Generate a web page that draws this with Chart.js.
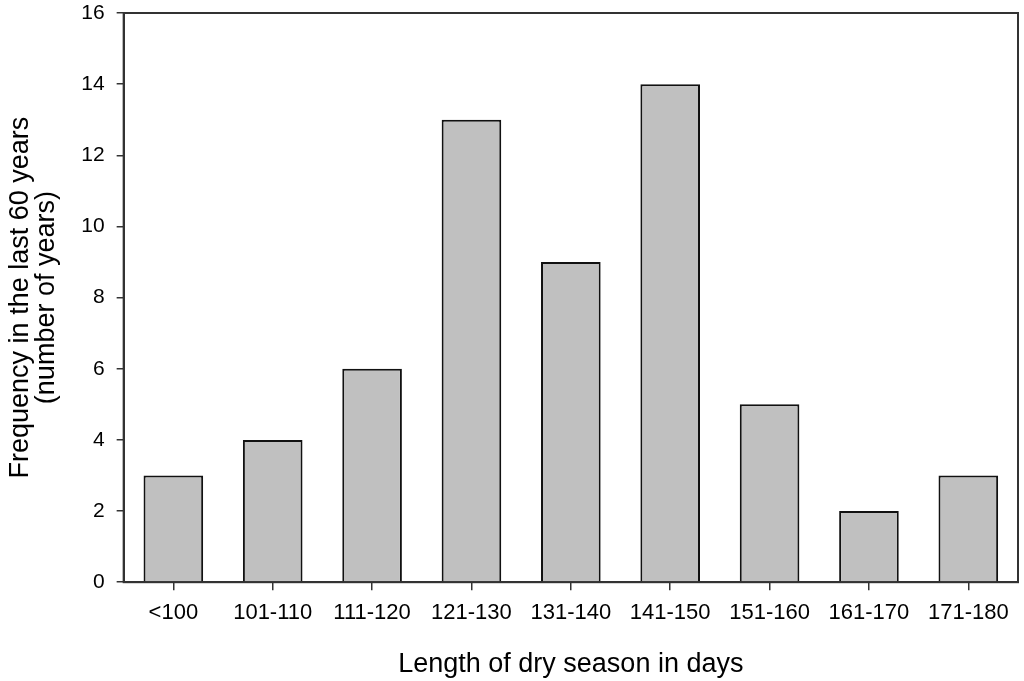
<!DOCTYPE html>
<html>
<head>
<meta charset="utf-8">
<script src="https://cdn.jsdelivr.net/npm/chart.js@4"></script>
<style>
  html, body { margin: 0; padding: 0; background: #fff; }
  #wrap { width: 1024px; height: 681px; }
</style>
</head>
<body>
<div id="wrap"><canvas id="dry-chart" width="1024" height="681"></canvas></div>
<script>
const categories = ["<100", "101-110", "111-120", "121-130", "131-140", "141-150", "151-160", "161-170", "171-180"];
const frequency = [3, 4, 6, 13, 9, 14, 5, 2, 3];
const yTicks = [0, 2, 4, 6, 8, 10, 12, 14, 16];

const axisColor = "#333333";
const font = "'Liberation Sans', Arial, sans-serif";

// box around the plot area (top and right lines)
const frame = {
  id: "frame",
  afterDraw(chart) {
    const a = chart.chartArea;
    const ctx = chart.ctx;
    ctx.save();
    ctx.strokeStyle = axisColor;
    ctx.lineWidth = 2;
    ctx.strokeRect(a.left, a.top, a.right - a.left, a.bottom - a.top);
    ctx.restore();
  },
};

let ctx = document.getElementById("dry-chart").getContext("2d");
new Chart(ctx, {
  type: "bar",
  data: {
    labels: categories,
    datasets: [
      {
        data: frequency,
        backgroundColor: "#c0c0c0",
        borderColor: "#111111",
        borderWidth: 2,
        barPercentage: 0.6,
        categoryPercentage: 1.0,
      },
    ],
  },
  options: {
    responsive: false,
    animation: false,
    layout: { padding: { left: 8, right: 6, top: 13, bottom: 0 } },
    plugins: {
      legend: { display: false },
      tooltip: { enabled: false },
    },
    scales: {
      x: {
        grid: {
          display: true,
          offset: false,
          drawOnChartArea: false,
          drawTicks: true,
          tickLength: 8,
          color: axisColor,
          lineWidth: 1.5,
        },
        border: { display: true, color: axisColor, width: 2 },
        ticks: { color: "#000", padding: 10, font: { family: font, size: 22 } },
        title: {
          display: true,
          text: "Length of dry season in days",
          color: "#000",
          padding: { top: 12, bottom: 0 },
          font: { family: font, size: 27 },
        },
      },
      y: {
        min: 0,
        max: 16,
        afterBuildTicks: (scale) => {
          scale.ticks = yTicks.map((v) => ({ value: v }));
        },
        // let the "16" label sit in the top margin instead of pushing the plot down
        afterFit: (scale) => {
          scale.paddingTop = 0;
        },
        grid: {
          display: true,
          drawOnChartArea: false,
          drawTicks: true,
          tickLength: 7,
          color: axisColor,
          lineWidth: 1.5,
        },
        border: { display: true, color: axisColor, width: 2 },
        ticks: { color: "#000", padding: 12, font: { family: font, size: 21 } },
        title: {
          display: true,
          text: ["Frequency in the last 60 years", "(number of years)"],
          color: "#000",
          padding: { top: 0, bottom: 10 },
          font: { family: font, size: 27, lineHeight: 0.95 },
        },
      },
    },
  },
  plugins: [frame],
});
</script>
</body>
</html>
